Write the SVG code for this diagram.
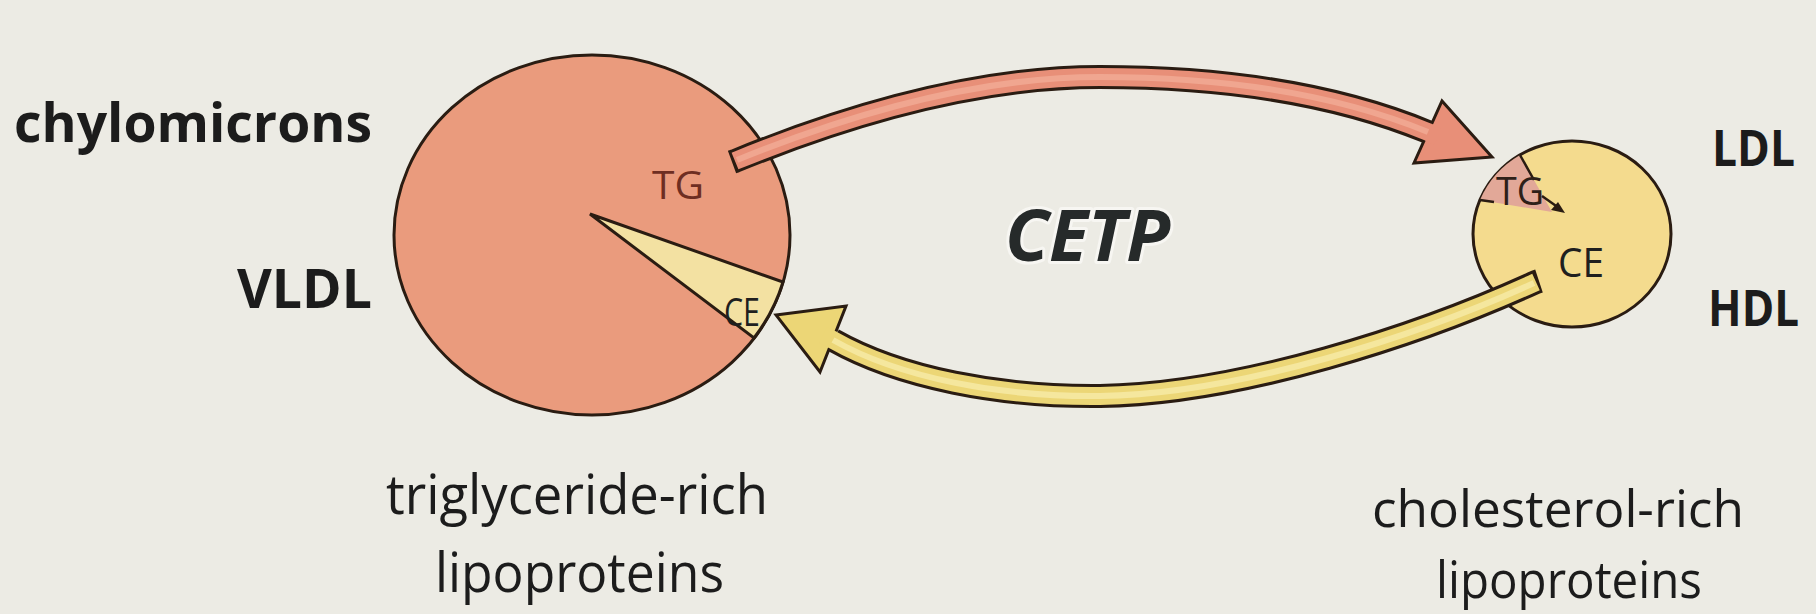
<svg xmlns="http://www.w3.org/2000/svg" width="1816" height="614" viewBox="0 0 1816 614">
<style>
.bg{fill:#ecebe4}
.lbl{font-family:"Open Sans","Noto Sans","Liberation Sans",sans-serif;fill:#1c1c1c}
.bold{font-weight:700}
.in{font-family:"Open Sans","Noto Sans","Liberation Sans",sans-serif}
.dk{fill:none;stroke:#2a1c12;stroke-width:24;stroke-linejoin:miter}
.redb{fill:none;stroke:#e88f78;stroke-width:18}
.redh{fill:none;stroke:#f0a690;stroke-width:6}
.yelb{fill:none;stroke:#ecd676;stroke-width:18}
.yelh{fill:none;stroke:#f5e79e;stroke-width:6}
</style>
<rect class="bg" x="0" y="0" width="1816" height="614"/>

<g id="node-triglyceride-rich">
  <ellipse cx="592" cy="235" rx="198" ry="180" fill="#ea9b7d" stroke="#2a1c12" stroke-width="3"/>
  <path d="M590,214 L783,282 A198,180 0 0 1 754,338 Z" fill="#f3e1a2" stroke="#2a1c12" stroke-width="3" stroke-linejoin="miter"/>
  <text class="in" x="652" y="199" font-size="38" textLength="52" lengthAdjust="spacingAndGlyphs" fill="#6e2e22">TG</text>
  <text class="in" x="724" y="326" font-size="38" textLength="36" lengthAdjust="spacingAndGlyphs" fill="#1f1f1f">CE</text>
  <text class="lbl" x="386" y="514" font-size="54" textLength="382" lengthAdjust="spacingAndGlyphs">triglyceride-rich</text>
  <text class="lbl" x="435" y="592" font-size="54" textLength="289" lengthAdjust="spacingAndGlyphs">lipoproteins</text>
</g>

<g id="node-cholesterol-rich">
  <ellipse cx="1572" cy="234" rx="99" ry="93" fill="#f4db8e" stroke="#2a1c12" stroke-width="3"/>
  <path d="M1552,212 L1520,155 A99,93 0 0 0 1480,200 Z" fill="#e2a898"/>
  <path d="M1520,155 L1534,180 M1480,200 L1494,202" stroke="#2a1c12" stroke-width="2.5" fill="none"/>
  <text class="in" x="1496" y="205" font-size="38" textLength="48" lengthAdjust="spacingAndGlyphs" fill="#2e2018">TG</text>
  <path d="M1542,196 L1559,208" stroke="#2a1c12" stroke-width="2.5" fill="none"/>
  <polygon points="1565,213 1551,210 1558,202" fill="#2a1c12"/>
  <text class="in" x="1558" y="277" font-size="40" textLength="46" lengthAdjust="spacingAndGlyphs" fill="#1f1f1f">CE</text>
  <text class="lbl" x="1372" y="527" font-size="52" textLength="372" lengthAdjust="spacingAndGlyphs">cholesterol-rich</text>
  <text class="lbl" x="1436" y="598" font-size="52" textLength="266" lengthAdjust="spacingAndGlyphs">lipoproteins</text>
</g>

<g id="labels-left">
  <text class="lbl bold" x="14" y="142" font-size="54" textLength="358" lengthAdjust="spacingAndGlyphs">chylomicrons</text>
  <text class="lbl bold" x="237" y="308" font-size="54" textLength="135" lengthAdjust="spacingAndGlyphs">VLDL</text>
</g>
<g id="labels-right">
  <text class="lbl bold" x="1712" y="166" font-size="50" textLength="83" lengthAdjust="spacingAndGlyphs">LDL</text>
  <text class="lbl bold" x="1708" y="326" font-size="50" textLength="91" lengthAdjust="spacingAndGlyphs">HDL</text>
</g>

<g id="connectors">
  <g id="arrow-TG">
    <path class="dk" d="M732,162.1 L735,161 C850,114 980,77 1100,77 C1260,77 1360,104 1428,132"/>
    <polygon points="1492,157 1442,101 1414,163" fill="#e88f78" stroke="#2a1c12" stroke-width="3" stroke-linejoin="miter"/>
    <path class="redb" d="M735,161 C850,114 980,77 1100,77 C1260,77 1360,104 1428,132 L1438,137"/>
    <path class="redh" d="M737,160 C850,114 980,77 1100,77 C1260,77 1360,104 1428,132"/>
  </g>
  <g id="arrow-CE">
    <path class="dk" d="M1539,281 L1536,282 C1420,335 1240,394 1100,396 C1000,397 900,378 833,340"/>
    <polygon points="776,315 846,306 820,372" fill="#ecd676" stroke="#2a1c12" stroke-width="3" stroke-linejoin="miter"/>
    <path class="yelb" d="M1536,282 C1420,335 1240,394 1100,396 C1000,397 900,378 833,340 L823,335"/>
    <path class="yelh" d="M1534,283 C1420,335 1240,394 1100,396 C1000,397 900,378 833,340"/>
  </g>
</g>

<g id="label-CETP">
  <text x="1005" y="261" font-family="'Open Sans','Noto Sans','Liberation Sans',sans-serif" font-weight="700" font-style="italic" font-size="72" textLength="165" lengthAdjust="spacingAndGlyphs" fill="#262a2a" stroke="#f7f6f2" stroke-width="6" paint-order="stroke" stroke-linejoin="round">CETP</text>
</g>
</svg>
